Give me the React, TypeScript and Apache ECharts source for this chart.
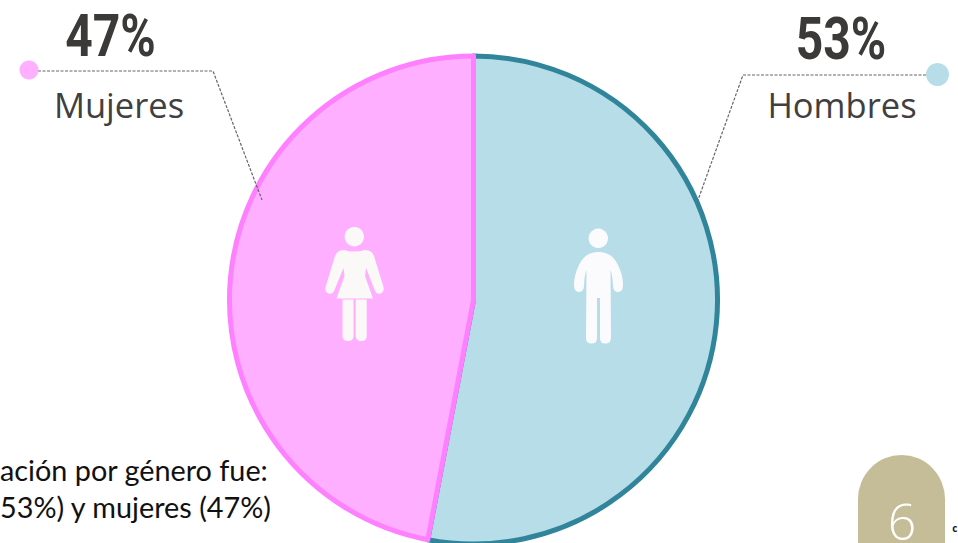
import React, { useEffect, useRef } from "react";
import * as echarts from "echarts";

const genderLabels = ["Hombres", "Mujeres"];
const genderShares = [53, 47];
const sliceFills = ["#B7DDE8", "#FFAFFF"];
const sliceBorders = ["#31859B", "#FF80FF"];
const captionLines = ["ación por género fue:", "53%) y mujeres (47%)"];
const pageNumber = "6";
const edgeFragment = "c";

const WOMAN =
  "M344 250 Q354 253 365 250 Q372 250 374 256 L383.5 287 Q384.5 292 380.5 293.5 Q376.5 294.5 375 291 L366 268 L365 276 L373 298.5 L336.5 298.5 L344.5 276 L343.5 268 L334 291 Q332.5 294.5 328.5 293.5 Q324.5 292 325.5 287 L335 256 Q337 250 344 250 Z " +
  "M342.5 299.5 L353.5 299.5 L353.5 336 Q353.5 341 348 341 Q342.5 341 342.5 336 Z " +
  "M355.7 299.5 L366.7 299.5 L366.7 336 Q366.7 341 361.2 341 Q355.7 341 355.7 336 Z";
const MAN =
  "M598.5 252 Q612 252 618 265 Q623 275 623 285 Q623 292 618 292 Q613.5 292 613 286 Q612.5 275 610.5 270 L611 338 Q611 343.5 605 343.5 Q600 343.5 600 338 L600 298 L597 298 L597 338 Q597 343.5 591.5 343.5 Q586 343.5 586 338 L586.5 270 Q584.5 275 584 286 Q583.5 292 579 292 Q574 292 574 285 Q574 275 579 265 Q585 252 598.5 252 Z";
const TAB = "M858 543 L858 499 A43.5 44 0 0 1 945 499 L945 543 Z";

echarts.graphic.registerShape("womanIcon", echarts.graphic.extendPath(WOMAN, {}));
echarts.graphic.registerShape("manIcon", echarts.graphic.extendPath(MAN, {}));
echarts.graphic.registerShape("pageTab", echarts.graphic.extendPath(TAB, {}));

const ink = "#3B3A38";
const leader = { stroke: "#666666", lineWidth: 1.2, lineDash: [3, 1.5], fill: "none" };

export default function App() {
  const ref = useRef<HTMLDivElement>(null);
  useEffect(() => {
    document.body.style.margin = "0";
    const chart = echarts.init(ref.current!, null, { renderer: "svg" });
    const bigText = (x: number, y: number, t: string) => ({
      type: "text", x, y, scaleX: 0.8, z: 20,
      style: { text: t, fill: ink, font: 'bold 60px "Liberation Sans Narrow", "Roboto"', align: "center", verticalAlign: "middle" },
    });
    const nameText = (x: number, y: number, t: string) => ({
      type: "text", x, y, z: 20,
      style: { text: t, fill: "#404040", font: '400 34.5px "Open Sans"', align: "center", verticalAlign: "middle" },
    });
    chart.setOption({
      animation: false,
      backgroundColor: "#FFFFFF",
      series: [
        {
          type: "pie",
          center: [473.5, 300],
          radius: [0, 244],
          startAngle: 90,
          clockwise: true,
          silent: true,
          label: { show: false },
          labelLine: { show: false },
          data: genderLabels.map((name, i) => ({
            name,
            value: genderShares[i],
            itemStyle: { color: sliceFills[i], borderColor: sliceBorders[i], borderWidth: 5 },
          })),
        },
      ],
      graphic: [
        { type: "polyline", z: 15, shape: { points: [[38, 71], [213, 71], [262, 200]] }, style: leader },
        { type: "polyline", z: 15, shape: { points: [[926, 75], [743, 75], [698, 200]] }, style: leader },
        { type: "circle", z: 16, shape: { cx: 29, cy: 70, r: 9.5 }, style: { fill: sliceFills[1] } },
        { type: "circle", z: 16, shape: { cx: 937.5, cy: 74.5, r: 11.5 }, style: { fill: sliceFills[0] } },
        bigText(110.5, 36, `${genderShares[1]}%`),
        bigText(841, 38.5, `${genderShares[0]}%`),
        nameText(119, 104, genderLabels[1]),
        nameText(842, 104, genderLabels[0]),
        { type: "circle", z: 17, shape: { cx: 354.3, cy: 236.7, r: 9.7 }, style: { fill: "#FBF8F8" } },
        { type: "womanIcon", z: 17, x: 0, y: 0, style: { fill: "#FBF8F8" } },
        { type: "circle", z: 17, shape: { cx: 598.3, cy: 238.3, r: 9.7 }, style: { fill: "#FBFBFD" } },
        { type: "manIcon", z: 17, x: 0, y: 0, style: { fill: "#FBFBFD" } },
        {
          type: "text", x: 0, y: 470, z: 20,
          style: { text: captionLines[0], fill: "#111111", font: '28.8px "Lato"', align: "left", verticalAlign: "middle" },
        },
        {
          type: "text", x: 0, y: 507, z: 20,
          style: { text: captionLines[1], fill: "#111111", font: '28.8px "Lato"', align: "left", verticalAlign: "middle" },
        },
        { type: "pageTab", z: 18, x: 0, y: 0, style: { fill: "#C4BD97" } },
        {
          type: "text", x: 902, y: 521, z: 20,
          style: { text: pageNumber, fill: "#FFFFFF", font: '300 50px "Open Sans"', lineHeight: 42, align: "center", verticalAlign: "middle" },
        },
        {
          type: "text", x: 957.5, y: 528, z: 20,
          style: { text: edgeFragment, fill: "#222222", font: 'bold 10px "Open Sans"', align: "right", verticalAlign: "middle" },
        },
      ],
    });
    return () => chart.dispose();
  }, []);
  return <div ref={ref} style={{ position: "absolute", left: 0, top: 0, width: 958, height: 543, overflow: "hidden" }} />;
}
